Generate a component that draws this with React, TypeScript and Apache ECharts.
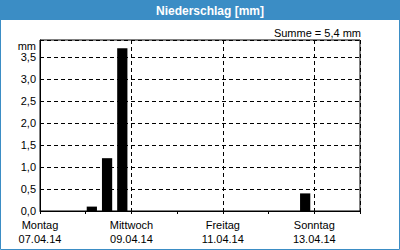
import React, { useEffect, useRef } from "react";
import * as echarts from "echarts";

// Data: 8-hour precipitation intervals (start, end, mm)
const periodStart = "2014-04-07T00:00:00Z";
const periodEnd = "2014-04-14T00:00:00Z";
const intervalStarts = [
  "2014-04-08T00:00:00Z",
  "2014-04-08T08:00:00Z",
  "2014-04-08T16:00:00Z",
  "2014-04-12T16:00:00Z",
];
const intervalEnds = [
  "2014-04-08T08:00:00Z",
  "2014-04-08T16:00:00Z",
  "2014-04-09T00:00:00Z",
  "2014-04-13T00:00:00Z",
];
const precipitation = [0.1, 1.2, 3.7, 0.4];
const weekdayNames = ["Sonntag", "Montag", "Dienstag", "Mittwoch", "Donnerstag", "Freitag", "Samstag"];
const yTickStep = 0.5;
const titleText = "Niederschlag [mm]";
const unitText = "mm";

const DAY = 86400000;
const t0 = Date.parse(periodStart);
const toDays = (s: string) => (Date.parse(s) - t0) / DAY;
const spanDays = toDays(periodEnd);

const BLUE = "#3b8dc5";
const FONT = "Liberation Sans";

const fmtNum = (v: number) => v.toFixed(1).replace(".", ",");
const pad = (n: number) => (n < 10 ? "0" + n : "" + n);

export default function App() {
  const ref = useRef<HTMLDivElement>(null);
  useEffect(() => {
    if (!ref.current) return;
    const chart = echarts.init(ref.current, null, { renderer: "svg" });
    const data = precipitation.map((v, i) => [toDays(intervalStarts[i]), toDays(intervalEnds[i]), v]);
    const total = precipitation.reduce((a, b) => a + b, 0);
    const yMax = Math.max(...precipitation) * 1.05;

    chart.setOption({
      animation: false,
      backgroundColor: "#ffffff",
      textStyle: { fontFamily: FONT },
      grid: {
        left: 40,
        right: 40,
        top: 40,
        bottom: 39,
        show: true,
        borderColor: "#000",
        borderWidth: 1,
        backgroundColor: "#fff",
      },
      graphic: [
        { type: "rect", shape: { x: 0, y: 0, width: 400, height: 20 }, style: { fill: BLUE }, z: 0 },
        {
          type: "rect",
          shape: { x: 0.5, y: 0.5, width: 399, height: 249 },
          style: { fill: "none", stroke: BLUE, lineWidth: 1 },
          z: 0,
        },
        {
          type: "text",
          x: 210,
          y: 10.5,
          style: {
            text: titleText,
            fill: "#fff",
            font: `bold 12px "${FONT}"`,
            textAlign: "center",
            textVerticalAlign: "middle",
          },
          z: 10,
        },
        {
          type: "text",
          x: 361,
          y: 33,
          style: {
            text: `Summe = ${fmtNum(total)} mm`,
            fill: "#000",
            font: `11px "${FONT}"`,
            textAlign: "right",
            textVerticalAlign: "middle",
          },
          z: 10,
        },
        {
          type: "text",
          x: 36,
          y: 46,
          style: {
            text: unitText,
            fill: "#000",
            font: `11px "${FONT}"`,
            textAlign: "right",
            textVerticalAlign: "middle",
          },
          z: 10,
        },
      ],
      xAxis: [
        {
          type: "value",
          min: 0,
          max: spanDays,
          interval: 2,
          axisLine: { show: true, lineStyle: { color: "#000", width: 1 } },
          axisTick: { show: false },
          splitLine: { show: true, lineStyle: { color: "#000", type: [4, 3], width: 1 } },
          axisLabel: {
            showMaxLabel: false,
            margin: 7,
            color: "#000",
            fontSize: 11,
            lineHeight: 14,
            fontFamily: FONT,
            formatter: (v: number) => {
              const d = new Date(t0 + v * DAY);
              return `${weekdayNames[d.getUTCDay()]}\n${pad(d.getUTCDate())}.${pad(d.getUTCMonth() + 1)}.${pad(d.getUTCFullYear() % 100)}`;
            },
          },
        },
        {
          type: "value",
          position: "bottom",
          min: 0,
          max: spanDays,
          interval: 1,
          axisLine: { show: false },
          axisTick: { show: true, length: 3, lineStyle: { color: "#000" } },
          splitLine: { show: false },
          axisLabel: { show: false },
        },
      ],
      yAxis: {
        type: "value",
        min: 0,
        max: yMax,
        interval: yTickStep,
        axisLine: { show: true, lineStyle: { color: "#000", width: 1 } },
        axisTick: { show: false },
        splitLine: { show: true, lineStyle: { color: "#000", type: [4, 3], width: 1 } },
        axisLabel: {
          showMaxLabel: false,
          margin: 4,
          color: "#000",
          fontSize: 11,
          fontFamily: FONT,
          formatter: (v: number) => fmtNum(v),
        },
      },
      series: [
        {
          type: "custom",
          xAxisIndex: 0,
          yAxisIndex: 0,
          data,
          renderItem: (params: any, api: any) => {
            const p0 = api.coord([api.value(0), api.value(2)]);
            const p1 = api.coord([api.value(1), 0]);
            return {
              type: "rect",
              shape: { x: p0[0] + 1, y: p0[1], width: p1[0] - p0[0] - 5, height: p1[1] - p0[1] },
              style: { fill: "#000" },
            };
          },
          z: 5,
        },
      ],
    });
    return () => chart.dispose();
  }, []);
  return (
    <div
      ref={ref}
      style={{ position: "fixed", left: 0, top: 0, width: 400, height: 250 }}
    />
  );
}
